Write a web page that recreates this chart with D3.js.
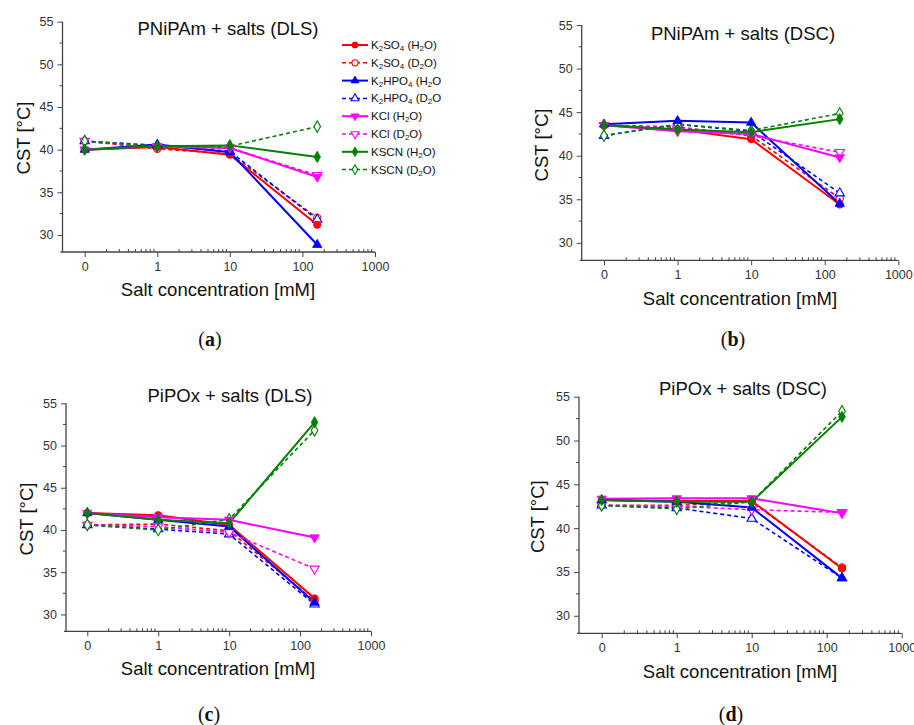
<!DOCTYPE html>
<html>
<head>
<meta charset="utf-8">
<script src="https://cdn.jsdelivr.net/npm/d3@7"></script>
<style>
  body { margin: 0; background: #fff; }
  svg { display: block; font-family: "Liberation Sans", Arial, sans-serif; }
</style>
</head>
<body>
<svg id="chart" width="914" height="725"></svg>
<script>
// salt concentration in mM (0 is drawn at the 0.1 position of the log axis)
const concentrations = [0, 1, 10, 160]
const xTickValues = [0.1, 1, 10, 100, 1000]
const xTickLabels = ["0", "1", "10", "100", "1000"]
const yTickValues = [30, 35, 40, 45, 50, 55]

const seriesNames = ["K2SO4 H2O", "K2SO4 D2O", "K2HPO4 H2O", "K2HPO4 D2O", "KCl H2O", "KCl D2O", "KSCN H2O", "KSCN D2O"]

// CST values [°C], one row per series, in seriesNames order
const pnipamDLS = [
    [40.0, 40.3, 39.4, 31.2],
    [41.0, 40.1, 39.5, 32.0],
    [40.0, 40.6, 39.7, 28.85],
    [41.0, 40.5, 39.8, 31.8],
    [40.0, 40.4, 40.2, 36.8],
    [41.0, 40.3, 40.2, 37.0],
    [40.0, 40.4, 40.5, 39.15],
    [41.0, 40.4, 40.4, 42.7]
]
const pnipamDSC = [
    [43.5, 43.0, 41.9, 34.4],
    [43.5, 43.3, 42.3, 35.1],
    [43.6, 44.0, 43.8, 34.5],
    [42.3, 43.6, 42.8, 35.7],
    [43.5, 42.8, 42.5, 39.8],
    [43.5, 43.2, 42.3, 40.4],
    [43.5, 43.0, 42.7, 44.2],
    [42.3, 43.6, 42.9, 44.85]
]
const pipoxDLS = [
    [42.0, 41.75, 40.6, 31.9],
    [40.6, 40.7, 39.9, 31.6],
    [42.0, 41.2, 40.4, 31.4],
    [40.6, 40.1, 39.5, 31.2],
    [42.0, 41.5, 41.2, 39.1],
    [40.6, 40.4, 39.7, 35.4],
    [42.0, 41.2, 40.8, 52.75],
    [40.6, 40.0, 41.25, 51.8]
]
const pipoxDSC = [
    [43.2, 43.1, 43.1, 35.4],
    [42.6, 42.6, 43.0, 35.5],
    [43.2, 43.0, 42.35, 34.3],
    [42.6, 42.3, 41.1, 34.3],
    [43.35, 43.4, 43.4, 41.7],
    [42.6, 42.5, 42.1, 41.8],
    [43.2, 43.0, 43.0, 52.7],
    [42.6, 42.2, 43.0, 53.35]
]

const colors = ["#ff0000", "#ff0000", "#0000ff", "#0000ff", "#ff00ff", "#ff00ff", "#008000", "#008000"]
const dashed = [false, true, false, true, false, true, false, true]
const shapes = ["circle", "circle", "up", "up", "down", "down", "diamond", "diamond"]

// legend labels, split into [text, isSubscript] pieces
const legendLabels = [
    [["K", 0], ["2", 1], ["SO", 0], ["4", 1], [" (H", 0], ["2", 1], ["O)", 0]],
    [["K", 0], ["2", 1], ["SO", 0], ["4", 1], [" (D", 0], ["2", 1], ["O)", 0]],
    [["K", 0], ["2", 1], ["HPO", 0], ["4", 1], [" (H", 0], ["2", 1], ["O", 0]],
    [["K", 0], ["2", 1], ["HPO", 0], ["4", 1], [" (D", 0], ["2", 1], ["O", 0]],
    [["KCl (H", 0], ["2", 1], ["O)", 0]],
    [["KCl (D", 0], ["2", 1], ["O)", 0]],
    [["KSCN (H", 0], ["2", 1], ["O)", 0]],
    [["KSCN (D", 0], ["2", 1], ["O)", 0]]
]

const panels = [
    {data: pnipamDLS, title: "PNiPAm + salts (DLS)", tag: "a", left: 62.5, top: 21.7, bottom: 252, x0: 84.7, x1: 375,
        titleX: 228, titleY: 35, yLabX: 24, yLabY: 138, xLabX: 218, xLabY: 296, tagX: 210, tagY: 346, legend: true},
    {data: pnipamDSC, title: "PNiPAm + salts (DSC)", tag: "b", left: 581.7, top: 25, bottom: 260.3, x0: 604, x1: 898.3,
        titleX: 743, titleY: 40, yLabX: 541.7, yLabY: 145, xLabX: 740, xLabY: 305, tagX: 733, tagY: 346},
    {data: pipoxDLS, title: "PiPOx + salts (DLS)", tag: "c", left: 66, top: 403.3, bottom: 631.3, x0: 87.3, x1: 371,
        titleX: 230, titleY: 402, yLabX: 26.7, yLabY: 519, xLabX: 218, xLabY: 675, tagX: 209, tagY: 721},
    {data: pipoxDSC, title: "PiPOx + salts (DSC)", tag: "d", left: 579, top: 396.7, bottom: 633.3, x0: 601.7, x1: 901.7,
        titleX: 743, titleY: 395, yLabX: 538.3, yLabY: 516.7, xLabX: 740, xLabY: 678, tagX: 731, tagY: 721}
]

const svg = d3.select("#chart")

function symbolPath(shape, size) {
    if (shape === "circle") return d3.symbol(d3.symbolCircle, size)()
    if (shape === "diamond") return d3.symbol(d3.symbolDiamond, size * 0.9)()
    return d3.symbol(d3.symbolTriangle, size * 0.9)()
}

function drawMarker(g, shape, i, x, y, size) {
    const open = dashed[i]
    g.append("path")
        .attr("d", symbolPath(shape, size))
        .attr("transform", `translate(${x},${y})` + (shape === "down" ? " rotate(180)" : ""))
        .attr("fill", open ? "#fff" : colors[i])
        .attr("stroke", colors[i])
        .attr("stroke-width", open ? 1.1 : 0.8)
}

panels.forEach(p => {
    const g = svg.append("g")
    const xScale = d3.scaleLog().domain([0.1, 1000]).range([p.x0, p.x1])
    const yScale = d3.scaleLinear().domain([28, 55]).range([p.bottom, p.top])
    const xPos = c => xScale(c === 0 ? 0.1 : c)

    // y axis
    const yAxis = d3.axisLeft(yScale).tickValues(yTickValues).tickSize(5).tickPadding(4)
    const yg = g.append("g").attr("transform", `translate(${p.left},0)`).call(yAxis)
    yg.select(".domain").attr("d", `M0,${p.bottom}V${p.top}`).attr("stroke", "#444").attr("stroke-width", 1.3)
    yg.selectAll(".tick line").attr("stroke", "#444")
    yg.selectAll(".tick text").attr("font-size", 12.5).attr("fill", "#333").attr("font-family", "Liberation Sans, Arial, sans-serif")
    d3.range(32.5, 55, 5).forEach(v => {
        g.append("line").attr("x1", p.left - 3).attr("x2", p.left).attr("y1", yScale(v)).attr("y2", yScale(v)).attr("stroke", "#444")
    })

    // x axis
    const xAxis = d3.axisBottom(xScale).tickValues(xTickValues).tickFormat((d, i) => xTickLabels[i]).tickSize(5).tickPadding(5)
    const xg = g.append("g").attr("transform", `translate(0,${p.bottom})`).call(xAxis)
    xg.select(".domain").attr("d", `M${p.left - 2},0H${p.x1}`).attr("stroke", "#444").attr("stroke-width", 1.3)
    xg.selectAll(".tick line").attr("stroke", "#444")
    xg.selectAll(".tick text").attr("font-size", 12.5).attr("fill", "#333").attr("font-family", "Liberation Sans, Arial, sans-serif")
    // minor log ticks (inside)
    ;[0.1, 1, 10, 100].forEach(dec => {
        d3.range(2, 10).forEach(m => {
            const x = xScale(dec * m)
            g.append("line").attr("x1", x).attr("x2", x).attr("y1", p.bottom).attr("y2", p.bottom - 3).attr("stroke", "#444")
        })
    })

    // series lines
    p.data.forEach((vals, i) => {
        const pts = concentrations.map((c, k) => [xPos(c), yScale(vals[k])])
        g.append("path")
            .attr("d", d3.line()(pts))
            .attr("fill", "none")
            .attr("stroke", colors[i])
            .attr("stroke-width", dashed[i] ? 1.6 : 2)
            .attr("stroke-dasharray", dashed[i] ? "4,3" : null)
    })
    // markers: open ones first, filled ones on top
    ;[true, false].forEach(openPass => {
        p.data.forEach((vals, i) => {
            if (dashed[i] !== openPass) return
            concentrations.forEach((c, k) => drawMarker(g, shapes[i], i, xPos(c), yScale(vals[k]), 42))
        })
    })

    // texts
    g.append("text").attr("x", p.titleX).attr("y", p.titleY).attr("text-anchor", "middle")
        .attr("font-size", 18.5).attr("fill", "#111").text(p.title)
    g.append("text").attr("transform", `translate(${p.yLabX + 6},${p.yLabY}) rotate(-90)`).attr("text-anchor", "middle")
        .attr("font-size", 18.5).attr("fill", "#111").text("CST [°C]")
    g.append("text").attr("x", p.xLabX).attr("y", p.xLabY).attr("text-anchor", "middle")
        .attr("font-size", 18.5).attr("fill", "#111").text("Salt concentration [mM]")
    const tag = g.append("text").attr("x", p.tagX).attr("y", p.tagY).attr("text-anchor", "middle")
        .attr("font-family", "Liberation Serif, Times New Roman, serif").attr("font-size", 20).attr("fill", "#111")
    tag.append("tspan").text("(")
    tag.append("tspan").attr("font-weight", "bold").text(p.tag)
    tag.append("tspan").text(")")

    // legend
    if (p.legend) {
        const lg = g.append("g")
        legendLabels.forEach((parts, i) => {
            const y = 45 + i * 17.8
            lg.append("line").attr("x1", 342).attr("x2", 368).attr("y1", y).attr("y2", y)
                .attr("stroke", colors[i]).attr("stroke-width", dashed[i] ? 1.5 : 2)
                .attr("stroke-dasharray", dashed[i] ? "4,3" : null)
            drawMarker(lg, shapes[i], i, 355, y, 30)
            const t = lg.append("text").attr("x", 371).attr("y", y + 4).attr("font-size", 11.5).attr("fill", "#111")
            parts.forEach(([s, sub]) => {
                t.append("tspan").attr("font-size", sub ? 8 : 11.5).attr("baseline-shift", sub ? "-25%" : null).text(s)
            })
        })
    }
})
</script>
</body>
</html>
